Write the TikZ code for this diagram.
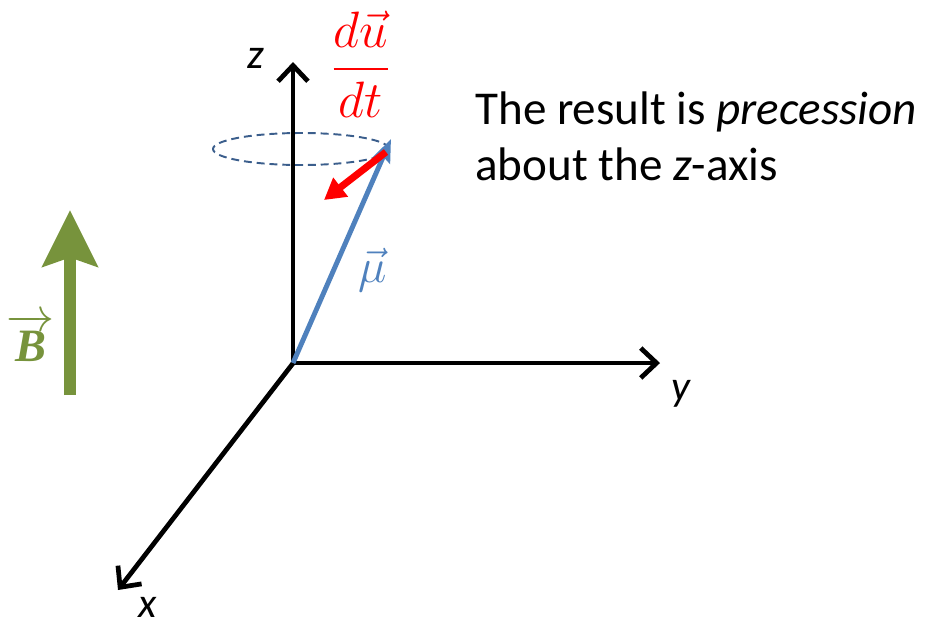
\documentclass[tikz,border=0pt]{standalone}
\usepackage{graphicx}
\usepackage{amsmath,amssymb}
\usepackage{fontspec}
\setmainfont{Carlito}
\newfontfamily\cambriaish{Liberation Serif}
\usepackage{tikz}
\usetikzlibrary{arrows.meta,positioning,calc}
\definecolor{mured}{HTML}{FF0000}
\definecolor{mublue}{HTML}{4F81BD}
\definecolor{orbitblue}{HTML}{3B5E8C}
\definecolor{fieldgreen}{HTML}{77933C}
\tikzset{
  axis/.style={line width=2.7pt, black,
    -{Straight Barb[length=9pt, width=17pt, line width=2.7pt]}},
  axislabel/.style={font=\fontsize{24}{28}\selectfont\itshape, inner sep=0pt},
  momentvec/.style={line width=2.8pt, color=mublue,
    -{Stealth[length=13pt, width=10pt, inset=2pt]}},
  changevec/.style={line width=4pt, color=mured,
    -{Triangle[length=12pt, width=13pt]}},
  fieldvec/.style={line width=6.8pt, color=fieldgreen,
    -{Stealth[length=32pt, width=31pt, inset=5pt]}},
  orbit/.style={draw=orbitblue, line width=1.1pt, dash pattern=on 4.5pt off 2.8pt},
  mathlabel/.style={font=\fontsize{24}{28}\selectfont, inner sep=0pt},
}
\begin{document}
\begin{tikzpicture}[x=0.02cm, y=-0.02cm]
  \useasboundingbox (0,0) rectangle (925,627);
  % axes
  \coordinate (O) at (293,363);
  \coordinate (zend) at (293,62);
  \coordinate (yend) at (660,363);
  \coordinate (xend) at (118,590);
  \draw[axis] (O) -- (zend);
  \draw[axis] (O) -- (yend);
  \draw[axis] ([shift={(1,-1)}]O) -- (xend);
  \node[axislabel] (zlab) at (256,58) {z};
  \node[axislabel] (ylab) at (681,394) {y};
  \node[axislabel] (xlab) at (148,607) {x};
  % precession orbit
  \draw[orbit] (301,149) ellipse [x radius=88, y radius=16];
  % moment and its change
  \coordinate (mutip) at (391,139);
  \draw[momentvec] (O) -- (mutip);
  \coordinate (dustart) at (386,152);
  \coordinate (duend) at (324,200);
  \draw[changevec] (dustart) -- (duend);
  \node[mathlabel, text=mublue] (mulab) at (373,270) {\scalebox{1.1}{$\vec{\mu}$}};
  \node[mathlabel, text=mured] (dudt) at (361,64)
    {\scalebox{1.17}{$\dfrac{d\vec{u}}{dt}$}};
  % field
  \coordinate (Bbot) at (70,395);
  \coordinate (Btop) at (70,210);
  \draw[fieldvec] (Bbot) -- (Btop);
  \node[mathlabel, text=fieldgreen] (Blab) at (31,338)
    {\scalebox{1.1}{$\overrightarrow{\text{\cambriaish\bfseries\itshape B}}$}};
  % text
  \node[anchor=west, align=left, inner sep=0pt,
    font=\fontsize{26.8}{32}\selectfont] (result) at (475,136)
    {The result is \textit{precession}\\ about the \textit{z}-axis};
\end{tikzpicture}
\end{document}
